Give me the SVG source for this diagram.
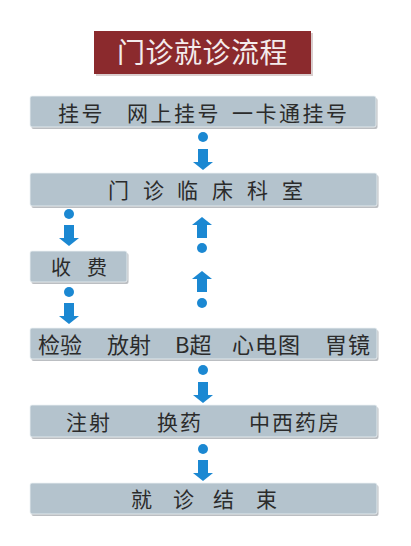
<svg xmlns="http://www.w3.org/2000/svg" xmlns:xlink="http://www.w3.org/1999/xlink" width="411" height="546" viewBox="0 0 411 546">
<style>
.bar{fill:#b4c3cd;stroke:#eef2f5;stroke-width:0.8}
.sh{fill:#9ea3a8;opacity:0.7}
.t{font-family:"Noto Sans CJK SC","Noto Sans",sans-serif;fill:#2b2b2b;font-size:21px}
.ttl{font-family:"Noto Sans CJK SC","Noto Sans",sans-serif;fill:#f4ecec;font-size:28px}
.ar{fill:#1b88d2}
</style>
<defs>
<path id="down" d="M-5,0 H5 V13 H10 L0,21 L-10,13 H-5 Z"/>
<path id="up" d="M-5,0 H5 V-13 H10 L0,-21 L-10,-13 H-5 Z"/>
</defs>
<rect width="411" height="546" fill="#ffffff"/>
<g id="title">
<rect x="96" y="33" width="217" height="43" fill="#c9b9b9" opacity="0.7"/>
<rect x="94" y="31" width="217" height="43" fill="#8b2a2d"/>
<text class="ttl" x="202.5" y="63" text-anchor="middle" letter-spacing="0.5">门诊就诊流程</text>
</g>
<g id="connectors" class="ar">
<circle cx="203" cy="137" r="5"/><use xlink:href="#down" x="203" y="149"/>
<circle cx="69" cy="214" r="5"/><use xlink:href="#down" x="69" y="225"/>
<circle cx="69" cy="292" r="5"/><use xlink:href="#down" x="69" y="303"/>
<use xlink:href="#up" x="202" y="238"/><circle cx="202" cy="248" r="5"/>
<use xlink:href="#up" x="202" y="292"/><circle cx="202" cy="303" r="5"/>
<circle cx="203" cy="370" r="5"/><use xlink:href="#down" x="203" y="382"/>
<circle cx="203" cy="449" r="5"/><use xlink:href="#down" x="203" y="460"/>
</g>
<g id="register">
<rect class="sh" x="31.5" y="98" width="346" height="31" rx="2"/>
<rect class="bar" x="30" y="96" width="346" height="31" rx="2"/>
<text class="t" y="121" letter-spacing="2.5"><tspan x="58">挂号</tspan><tspan x="127">网上挂号</tspan><tspan x="232">一卡通挂号</tspan></text>
</g>
<g id="clinic">
<rect class="sh" x="31.5" y="175" width="347" height="33" rx="2"/>
<rect class="bar" x="30" y="173" width="347" height="33" rx="2"/>
<text class="t" y="198" x="108 143 177 212 247 282">门诊临床科室</text>
</g>
<g id="payment">
<rect class="sh" x="31.5" y="253" width="97" height="31" rx="2"/>
<rect class="bar" x="30" y="251" width="97" height="31" rx="2"/>
<text class="t" y="275" font-size="20" x="51 87" style="font-size:20px">收费</text>
</g>
<g id="exams">
<rect class="sh" x="31.5" y="330" width="347" height="31" rx="2"/>
<rect class="bar" x="30" y="328" width="347" height="31" rx="2"/>
<text class="t" y="353" style="font-size:22px"><tspan x="38">检验</tspan><tspan x="107">放射</tspan><tspan x="175">B超</tspan><tspan x="232" letter-spacing="1">心电图</tspan><tspan x="325" letter-spacing="1">胃镜</tspan></text>
</g>
<g id="treatment">
<rect class="sh" x="31.5" y="407" width="347" height="32" rx="2"/>
<rect class="bar" x="30" y="405" width="347" height="32" rx="2"/>
<text class="t" y="430" letter-spacing="2"><tspan x="66">注射</tspan><tspan x="157">换药</tspan><tspan x="249">中西药房</tspan></text>
</g>
<g id="end">
<rect class="sh" x="31.5" y="485" width="347" height="31" rx="2"/>
<rect class="bar" x="30" y="483" width="347" height="31" rx="2"/>
<text class="t" y="507" x="131 173 213 256">就诊结束</text>
</g>
</svg>
